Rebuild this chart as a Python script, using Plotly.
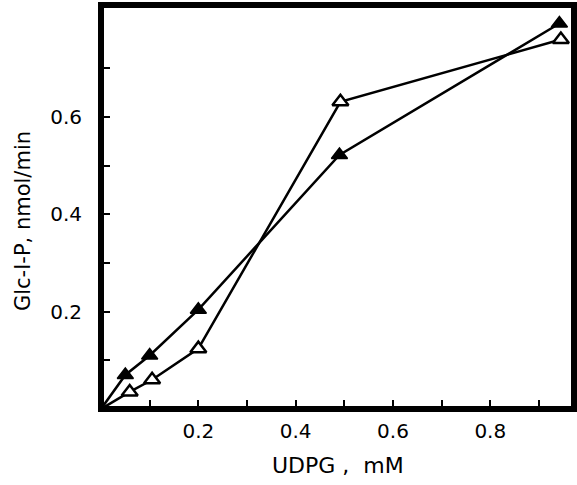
import plotly.graph_objects as go

udpg_filled = [0, 0.05, 0.10, 0.20, 0.49, 0.942]
rate_filled = [0, 0.07, 0.11, 0.204, 0.522, 0.792]
udpg_open = [0, 0.059, 0.105, 0.20, 0.492, 0.945]
rate_open = [0, 0.035, 0.06, 0.124, 0.631, 0.759]

x_ticks = [0.1, 0.2, 0.3, 0.4, 0.5, 0.6, 0.7, 0.8, 0.9]
x_tick_labels = ["", "0.2", "", "0.4", "", "0.6", "", "0.8", ""]
y_ticks = [0.1, 0.2, 0.3, 0.4, 0.5, 0.6, 0.7]
y_tick_labels = ["", "0.2", "", "0.4", "", "0.6", ""]
x_title = "UDPG ,  mM"
y_title = "Glc-I-P, nmol/min"

fig = go.Figure()
sizes = [0] + [14] * 5
fig.add_trace(go.Scatter(x=udpg_filled, y=rate_filled, mode="lines+markers",
                         line=dict(color="black", width=2.5),
                         marker=dict(symbol="triangle-up", size=sizes, color="black",
                                     opacity=1, line=dict(color="black", width=1.5)),
                         showlegend=False))
fig.add_trace(go.Scatter(x=udpg_open, y=rate_open, mode="lines+markers",
                         line=dict(color="black", width=2.5),
                         marker=dict(symbol="triangle-up", size=sizes, color="white",
                                     opacity=1, line=dict(color="black", width=2.5)),
                         showlegend=False))

tick_font = dict(family="DejaVu Sans, sans-serif", size=20, color="black")
title_font_x = dict(family="DejaVu Sans, sans-serif", size=22, color="black")
title_font_y = dict(family="DejaVu Sans, sans-serif", size=21, color="black")

fig.update_layout(
    width=577, height=485,
    margin=dict(l=101, r=3, t=5, b=76),
    paper_bgcolor="white", plot_bgcolor="white",
    xaxis=dict(range=[0, 0.972], tickmode="array",
               tickvals=x_ticks, ticktext=x_tick_labels, tickfont=tick_font,
               ticks="inside", ticklen=9, tickwidth=2, tickcolor="black",
               ticklabelstandoff=8,
               showgrid=False, zeroline=False, showline=False),
    yaxis=dict(range=[0, 0.83], tickmode="array",
               tickvals=y_ticks, ticktext=y_tick_labels, tickfont=tick_font,
               ticks="inside", ticklen=9, tickwidth=2, tickcolor="black",
               ticklabelstandoff=18,
               showgrid=False, zeroline=False, showline=False),
    annotations=[
        dict(text=x_title, xref="paper", yref="paper", x=0.5, y=-0.14,
             xanchor="center", yanchor="middle", showarrow=False, font=title_font_x),
        dict(text=y_title, xref="paper", yref="paper", x=-0.165, y=0.465,
             xanchor="center", yanchor="middle", showarrow=False, textangle=-90,
             font=title_font_y),
    ],
)
fig.add_shape(type="rect", xref="paper", yref="paper", x0=0, y0=0, x1=1, y1=1,
              line=dict(color="black", width=6), layer="above")

fig.write_html("out.html", config={"displayModeBar": False},
               post_script="document.body.style.margin='0';")
